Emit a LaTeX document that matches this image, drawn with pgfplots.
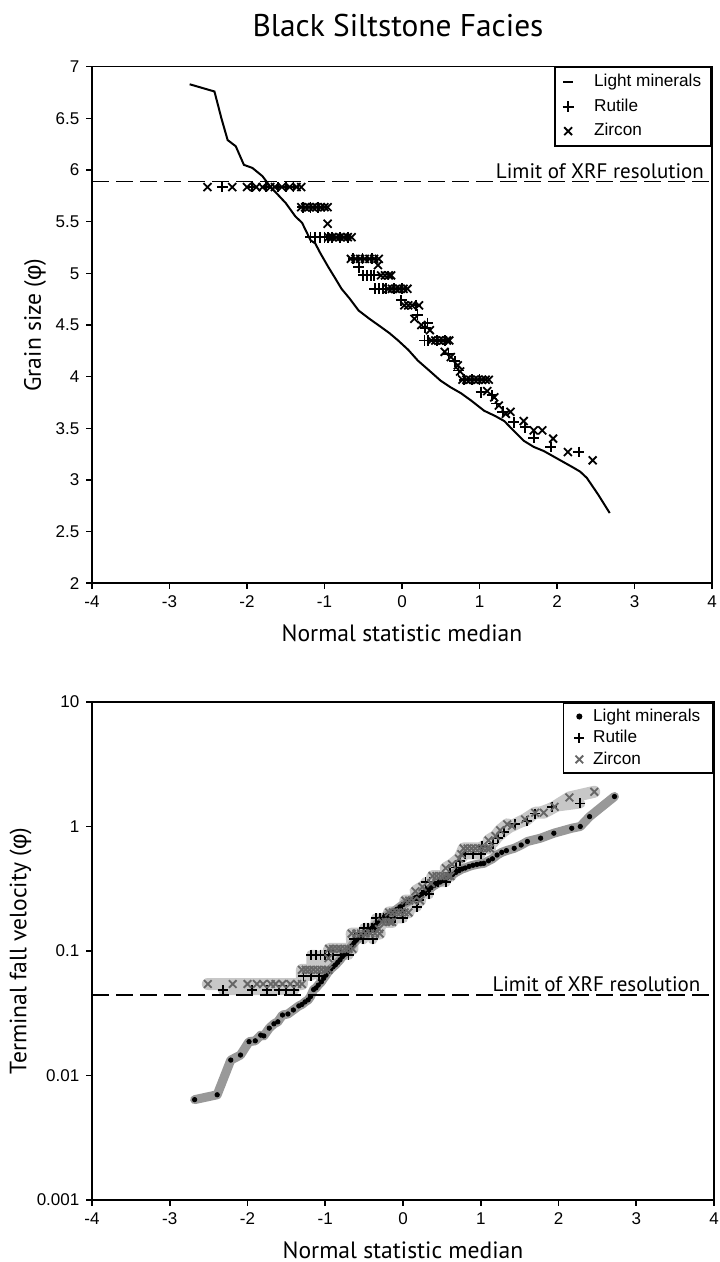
\documentclass[border=0pt]{standalone}
\usepackage{fontspec}
\setmainfont{Liberation Sans}
\newfontfamily\myriad{PT Sans}
\usepackage{pgfplots}
\usepackage{pgfplotstable}
\pgfplotsset{compat=1.18}

\pgfplotsset{
  refchart/.style={
    scale only axis,
    xmin=-4, xmax=4,
    xtick={-4,-3,...,4},
    xticklabels={-4,-3,-2,-1,0,1,2,3,4},
    axis line style={line width=0.8pt},
    every tick/.style={black, line width=0.8pt},
    tick align=outside, tick pos=left,
    major tick length=2.8pt, minor tick length=0pt,
    tick label style={font=\fontsize{8.5}{10}\selectfont},
    /pgf/number format/assume math mode=true,
    legend cell align=left,
  },
  markimg/.style={legend image code/.code={\path (0pt,-2pt) (6pt,2pt); \draw[##1] plot coordinates {(3pt,0pt)};}},
}

% bottom panel: terminal fall velocity
\pgfplotstableread{
x y
-2.68 0.0064
-2.39 0.0070
-2.215 0.0133
-2.09 0.0146
-1.98 0.0187
-1.90 0.0190
-1.83 0.0211
-1.79 0.0208
-1.72 0.0240
-1.66 0.0260
-1.61 0.0270
-1.55 0.0306
-1.48 0.0312
-1.41 0.0336
-1.34 0.0362
-1.30 0.0372
-1.26 0.0390
-1.22 0.0405
-1.19 0.0430
-1.15 0.0490
-1.12 0.0505
-1.09 0.0532
-1.05 0.0565
-1.02 0.0604
-0.99 0.0640
-0.96 0.0685
-0.93 0.0715
-0.90 0.0745
-0.87 0.0773
-0.84 0.0810
-0.81 0.0850
-0.78 0.090
-0.75 0.094
-0.72 0.098
-0.69 0.104
-0.66 0.110
-0.63 0.116
-0.60 0.122
-0.56 0.128
-0.52 0.134
-0.48 0.140
-0.44 0.146
-0.40 0.153
-0.36 0.160
-0.32 0.168
-0.28 0.178
-0.24 0.188
-0.20 0.194
-0.16 0.200
-0.12 0.208
-0.08 0.216
-0.04 0.226
0.00 0.236
0.04 0.244
0.08 0.252
0.12 0.260
0.16 0.268
0.20 0.276
0.24 0.286
0.28 0.298
0.32 0.310
0.36 0.322
0.40 0.336
0.44 0.348
0.48 0.358
0.52 0.370
0.56 0.384
0.60 0.398
0.64 0.412
0.68 0.428
0.72 0.442
0.76 0.456
0.80 0.464
0.85 0.478
0.90 0.488
0.95 0.496
1.00 0.502
1.04 0.506
1.10 0.530
1.15 0.550
1.21 0.590
1.27 0.620
1.33 0.640
1.43 0.668
1.52 0.710
1.60 0.758
1.77 0.806
1.94 0.883
2.17 0.968
2.28 1.000
2.40 1.200
2.72 1.740
}\lightB

\pgfplotstableread{
x y
-2.32 0.0486
-1.94 0.0486
-1.75 0.0486
-1.60 0.0486
-1.50 0.0486
-1.40 0.0486
-1.28 0.0632
-1.18 0.0632
-1.18 0.0931
-1.12 0.0931
-1.08 0.0632
-1.06 0.0931
-1.00 0.0931
-0.95 0.0931
-0.90 0.0931
-0.80 0.0931
-0.70 0.0931
-0.63 0.124
-0.56 0.138
-0.51 0.124
-0.50 0.153
-0.45 0.153
-0.40 0.153
-0.39 0.124
-0.36 0.153
-0.35 0.183
-0.30 0.183
-0.25 0.183
-0.21 0.183
-0.10 0.183
0.00 0.183
-0.01 0.212
0.18 0.227
0.20 0.256
0.29 0.358
0.30 0.304
0.33 0.285
0.34 0.358
0.45 0.358
0.55 0.358
0.60 0.426
0.68 0.469
0.73 0.529
0.80 0.597
0.90 0.597
1.00 0.597
1.02 0.701
1.16 0.730
1.22 0.814
1.30 0.904
1.44 1.04
1.59 1.11
1.70 1.27
1.92 1.43
2.28 1.53
}\rutB

\pgfplotstableread{
x y
-2.51 0.0543
-2.19 0.0543
-2.00 0.0543
-1.88 0.0543
-1.80 0.0543
-1.70 0.0543
-1.64 0.0543
-1.55 0.0543
-1.45 0.0543
-1.36 0.0543
-1.30 0.0543
-1.30 0.0706
-1.25 0.0706
-1.20 0.0706
-1.15 0.0706
-1.10 0.0706
-1.05 0.0706
-1.00 0.0706
-0.96 0.0706
-0.96 0.0875
-0.95 0.104
-0.90 0.104
-0.85 0.104
-0.80 0.104
-0.75 0.104
-0.70 0.104
-0.65 0.104
-0.66 0.138
-0.60 0.138
-0.54 0.138
-0.48 0.138
-0.42 0.138
-0.36 0.138
-0.30 0.138
-0.31 0.150
-0.27 0.171
-0.22 0.171
-0.17 0.171
-0.14 0.171
-0.18 0.204
-0.13 0.204
-0.08 0.204
-0.03 0.204
0.02 0.204
0.07 0.204
0.03 0.254
0.08 0.254
0.13 0.254
0.22 0.254
0.16 0.302
0.25 0.327
0.36 0.350
0.38 0.400
0.43 0.400
0.48 0.400
0.53 0.400
0.58 0.400
0.61 0.400
0.55 0.463
0.63 0.496
0.72 0.552
0.75 0.599
0.78 0.667
0.83 0.667
0.88 0.667
0.93 0.667
0.98 0.667
1.03 0.667
1.08 0.667
1.12 0.667
1.10 0.773
1.19 0.838
1.25 0.933
1.34 1.04
1.40 1.01
1.57 1.14
1.70 1.29
1.81 1.29
1.95 1.44
2.14 1.71
2.46 1.90
}\zirB

\begin{document}
\begin{tikzpicture}
\path[use as bounding box] (-46pt,-31pt) rectangle (313.5pt,600pt);

% ---------- top: grain size ----------
\begin{axis}[refchart, at={(0pt,308.35pt)}, anchor=south west,
  width=310pt, height=258.3pt,
  ymin=2, ymax=7, ytick={2,2.5,...,7},
  yticklabels={2,2.5,3,3.5,4,4.5,5,5.5,6,6.5,7},
  title={Black Siltstone Facies},
  every axis title/.style={at={(0.5,1)}, anchor=center, yshift=20.8pt, xshift=-2pt,
    font=\myriad\fontsize{15.7}{18}\selectfont},
  xlabel={Normal statistic median},
  ylabel={Grain size ({\rmfamily φ})},
  every axis x label/.style={at={(axis description cs:0.5,-0.097)}, anchor=center,
    font=\myriad\fontsize{11.8}{14}\selectfont},
  every axis y label/.style={at={(axis description cs:-0.092,0.5)}, rotate=90, anchor=center,
    font=\myriad\fontsize{11.8}{14}\selectfont},
  legend style={at={(1,1)}, anchor=north east, draw=black, line width=0.8pt,
    font=\fontsize{8.6}{10}\selectfont, inner xsep=3pt, inner ysep=1.5pt,
    row sep=0.5pt, /tikz/every odd column/.append style={column sep=7.5pt}},
]
\addplot[black, line width=1pt, legend image code/.code={\path (0pt,-2pt) (6pt,2pt); \draw[black, line width=1pt] (0.5pt,0pt) -- (5.5pt,0pt);}] coordinates {
(-2.74,6.83) (-2.42,6.76) (-2.33,6.50) (-2.25,6.29) (-2.145,6.23) (-2.04,6.05) (-1.93,6.02)
(-1.80,5.94) (-1.70,5.84) (-1.60,5.76) (-1.50,5.68) (-1.375,5.55) (-1.29,5.49) (-1.18,5.32)
(-1.12,5.29) (-1.05,5.19) (-0.95,5.06) (-0.86,4.95) (-0.78,4.85) (-0.68,4.76) (-0.56,4.64)
(-0.42,4.56) (-0.27,4.48) (-0.16,4.42) (-0.05,4.35) (0.08,4.26) (0.205,4.155) (0.35,4.06)
(0.50,3.96) (0.62,3.90) (0.76,3.84) (0.89,3.77) (1.06,3.67) (1.20,3.62) (1.32,3.57)
(1.45,3.47) (1.57,3.38) (1.70,3.32) (1.83,3.28) (2.02,3.20) (2.21,3.12) (2.30,3.08)
(2.385,3.02) (2.53,2.86) (2.68,2.68)};
\addlegendentry{Light minerals}
\addplot[only marks, mark=+, mark size=2.7pt, black, mark options={line width=0.9pt}, markimg] coordinates {
(-2.32,5.835) (-1.94,5.835) (-1.75,5.835) (-1.60,5.835) (-1.50,5.835) (-1.40,5.835)
(-1.28,5.64) (-1.18,5.64) (-1.08,5.64)
(-1.18,5.35) (-1.12,5.35) (-1.06,5.35) (-1.00,5.35) (-0.95,5.35) (-0.90,5.35) (-0.80,5.35) (-0.70,5.35)
(-0.63,5.14) (-0.51,5.14) (-0.39,5.14) (-0.56,5.06)
(-0.50,4.98) (-0.45,4.98) (-0.40,4.98) (-0.36,4.98)
(-0.35,4.85) (-0.30,4.85) (-0.25,4.85) (-0.21,4.85) (-0.10,4.85) (0.00,4.85)
(-0.01,4.74) (0.18,4.69) (0.20,4.60) (0.30,4.47) (0.33,4.52)
(0.29,4.35) (0.34,4.35) (0.45,4.35) (0.55,4.35)
(0.60,4.22) (0.68,4.15) (0.73,4.06)
(0.80,3.97) (0.90,3.97) (1.00,3.97)
(1.02,3.85) (1.16,3.82) (1.22,3.74) (1.30,3.66) (1.44,3.56) (1.59,3.51) (1.70,3.41) (1.92,3.32) (2.28,3.27)};
\addlegendentry{Rutile}
\addplot[only marks, mark=x, mark size=2.8pt, black, mark options={line width=0.9pt}, markimg] coordinates {
(-2.51,5.835) (-2.19,5.835) (-2.00,5.835) (-1.88,5.835) (-1.80,5.835) (-1.70,5.835) (-1.64,5.835)
(-1.55,5.835) (-1.45,5.835) (-1.36,5.835) (-1.30,5.835)
(-1.30,5.64) (-1.25,5.64) (-1.20,5.64) (-1.15,5.64) (-1.10,5.64) (-1.05,5.64) (-1.00,5.64) (-0.96,5.64)
(-0.96,5.48)
(-0.95,5.35) (-0.90,5.35) (-0.85,5.35) (-0.80,5.35) (-0.75,5.35) (-0.70,5.35) (-0.65,5.35)
(-0.66,5.14) (-0.60,5.14) (-0.54,5.14) (-0.48,5.14) (-0.42,5.14) (-0.36,5.14) (-0.30,5.14)
(-0.31,5.08)
(-0.27,4.98) (-0.22,4.98) (-0.17,4.98) (-0.14,4.98)
(-0.18,4.85) (-0.13,4.85) (-0.08,4.85) (-0.03,4.85) (0.02,4.85) (0.07,4.85)
(0.03,4.69) (0.08,4.69) (0.13,4.69) (0.22,4.69) (0.16,4.56) (0.25,4.50) (0.36,4.45)
(0.38,4.35) (0.43,4.35) (0.48,4.35) (0.53,4.35) (0.58,4.35) (0.61,4.35)
(0.55,4.24) (0.63,4.19) (0.72,4.11) (0.75,4.05)
(0.78,3.97) (0.83,3.97) (0.88,3.97) (0.93,3.97) (0.98,3.97) (1.03,3.97) (1.08,3.97) (1.12,3.97)
(1.10,3.86) (1.19,3.80) (1.25,3.72) (1.34,3.64) (1.40,3.66) (1.57,3.57) (1.70,3.48) (1.81,3.48)
(1.95,3.40) (2.14,3.27) (2.46,3.19)};
\addlegendentry{Zircon}
\addplot[black, line width=0.8pt, dash pattern=on 8.5pt off 3.5pt, forget plot] coordinates {(-4,5.887) (4,5.887)};
\node[anchor=south east, font=\myriad\fontsize{10.5}{12}\selectfont, inner sep=1.5pt] at (axis cs:3.94,5.887) {Limit of XRF resolution};
\end{axis}

% ---------- bottom: terminal fall velocity ----------
\begin{axis}[refchart, at={(0pt,0pt)}, anchor=south west,
  width=311pt, height=249pt,
  ymode=log, ymin=0.001, ymax=10,
  ytick={0.001,0.01,0.1,1,10}, yticklabels={0.001,0.01,0.1,1,10},
  xlabel={Normal statistic median},
  ylabel={Terminal fall velocity ({\rmfamily φ})},
  every axis x label/.style={at={(axis description cs:0.5,-0.1)}, anchor=center,
    font=\myriad\fontsize{11.8}{14}\selectfont},
  every axis y label/.style={at={(axis description cs:-0.115,0.5)}, rotate=90, anchor=center,
    font=\myriad\fontsize{11.8}{14}\selectfont},
  legend style={at={(1,1)}, anchor=north east, draw=black, line width=0.8pt,
    font=\fontsize{8.6}{10}\selectfont, inner xsep=4.5pt, inner ysep=1pt,
    row sep=-1pt, /tikz/every odd column/.append style={column sep=1.5pt}},
]
\addplot[color=black!22, line width=6pt, line join=round, line cap=round, forget plot] table {\zirB};
\addplot[color=black!22, line width=5pt, line join=round, line cap=round, forget plot] table {\rutB};
\addplot[color=black!40, line width=4.5pt, line join=round, line cap=round, forget plot] table {\lightB};
\addplot[only marks, mark=*, mark size=1.1pt, black, markimg] table {\lightB};
\addlegendentry{Light minerals}
\addplot[only marks, mark=+, mark size=2.5pt, black, mark options={line width=0.9pt}, markimg] table {\rutB};
\addlegendentry{Rutile}
\addplot[only marks, mark=x, mark size=2.7pt, black!60, mark options={line width=0.9pt}, markimg] table {\zirB};
\addlegendentry{Zircon}
\addplot[black, line width=0.8pt, dash pattern=on 8.5pt off 3.5pt, forget plot] coordinates {(-4,0.0444) (4,0.0444)};
\node[anchor=south east, font=\myriad\fontsize{10.5}{12}\selectfont, inner sep=1.5pt] at (axis cs:3.87,0.0444) {Limit of XRF resolution};
\end{axis}
\end{tikzpicture}
\end{document}
